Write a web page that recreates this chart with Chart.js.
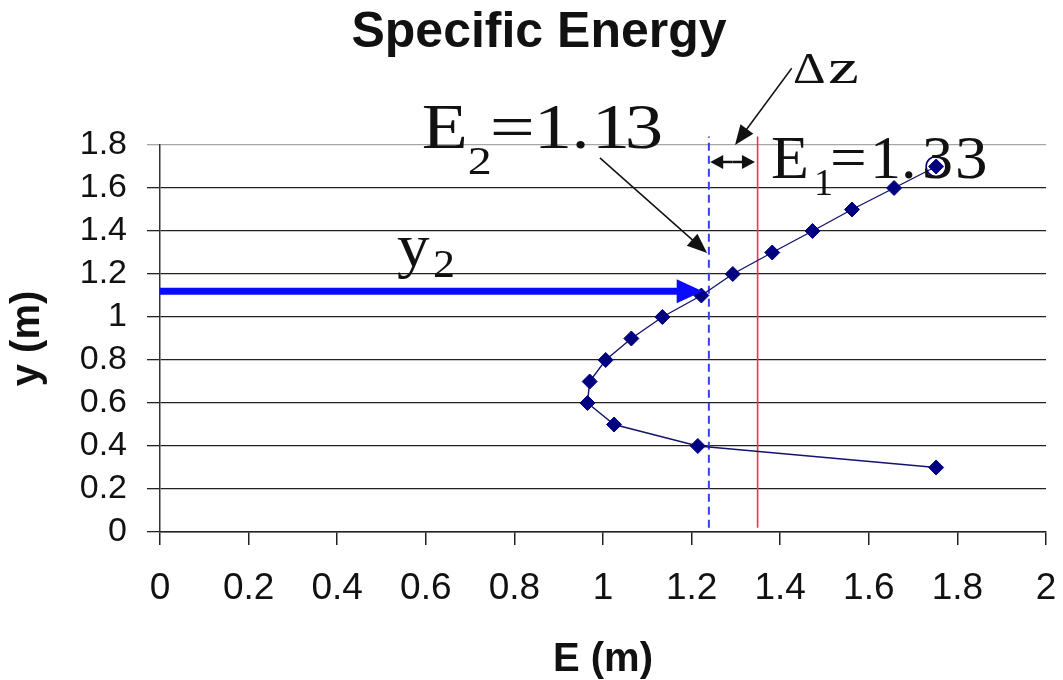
<!DOCTYPE html>
<html>
<head>
<meta charset="utf-8">
<title>Specific Energy</title>
<script src="https://cdn.jsdelivr.net/npm/chart.js@4/dist/chart.umd.min.js"></script>
<style>
  html, body { margin: 0; padding: 0; background: #ffffff; }
  canvas { display: block; }
</style>
</head>
<body>
<canvas id="chart" width="1063" height="680"></canvas>
<script>
// Flow depth y (m) and the specific energy E (m) computed at each depth
const depthY  = [0.3, 0.4, 0.5, 0.6, 0.7, 0.8, 0.9, 1.0, 1.1, 1.2, 1.3, 1.4, 1.5, 1.6, 1.7];
const energyE = [1.752, 1.214, 1.025, 0.965, 0.970, 1.006, 1.064, 1.134, 1.222, 1.293, 1.382, 1.473, 1.562, 1.657, 1.752];

// Axis tick labels
const xTickLabels = ['0', '0.2', '0.4', '0.6', '0.8', '1', '1.2', '1.4', '1.6', '1.8', '2'];
const yTickLabels = ['0', '0.2', '0.4', '0.6', '0.8', '1', '1.2', '1.4', '1.6', '1.8'];

// Energy levels drawn as vertical reference lines (downstream, upstream)
const energyLevels = [1.239, 1.349];
const levelSpanY = [0.02, 1.84];

// Depth for the downstream section
const depthY2 = 1.12;
const depthY2Energy = 1.225;

// Index of the starting point that is ringed
const ringedIndex = 14;

const NAVY = '#000080';
const SANS = '"Liberation Sans", Arial, sans-serif';
const SERIF = '"Liberation Serif", "Times New Roman", serif';

// Callouts, placed in axis units: arrows and formula text.
// Each text run: [text, dx, dy, size factor, horizontal stretch]
const callouts = {
  e2Pointer:  { from: [0.993, 1.74], to: [1.235, 1.298] },
  dzPointer:  { from: [1.426, 2.157], to: [1.298, 1.800] },
  dzSpan:     { y: 1.721, x: [1.242, 1.343] },
  e2Label:    { at: [0.591, 1.786], size: 64,
                runs: [['E', 0, 0, 1, 1.18], ['2', 46, 26, 0.62, 1.2], ['=', 68, 0, 1, 1.25],
                       ['1', 112, 0, 1, 1.2], ['.', 150, 0, 1, 1.1], ['1', 170, 0, 1, 1.2], ['3', 203, 0, 1, 1.2]] },
  e1Label:    { at: [1.379, 1.647], size: 62,
                runs: [['E', 0, 0, 1, 1], ['1', 43, 17, 0.62, 1], ['=', 59, 0, 1, 1.05],
                       ['1', 99, 0, 1, 1], ['.', 130, 0, 1, 1], ['3', 151, 0, 1, 1], ['3', 184, 0, 1, 1.05]] },
  dzLabel:    { at: [1.429, 2.088], size: 44,
                runs: [['\u0394', 0, 0, 1, 1.15], ['z', 35, 0, 1.1, 1.45]] },
  y2Label:    { at: [0.535, 1.237], size: 62,
                runs: [['y', 0, 0, 1, 1.05], ['2', 36, 11, 0.64, 1.1]] }
};

function arrowHead(ctx, x1, y1, x2, y2, len, half) {
  const a = Math.atan2(y2 - y1, x2 - x1);
  const bx = x2 - len * Math.cos(a), by = y2 - len * Math.sin(a);
  ctx.beginPath();
  ctx.moveTo(x2, y2);
  ctx.lineTo(bx + half * Math.sin(a), by - half * Math.cos(a));
  ctx.lineTo(bx - half * Math.sin(a), by + half * Math.cos(a));
  ctx.closePath();
  ctx.fill();
}

function arrow(ctx, x1, y1, x2, y2, opts) {
  const a = Math.atan2(y2 - y1, x2 - x1);
  ctx.save();
  ctx.strokeStyle = opts.color;
  ctx.fillStyle = opts.color;
  ctx.lineWidth = opts.width;
  ctx.beginPath();
  ctx.moveTo(x1, y1);
  ctx.lineTo(x2 - opts.len * 0.7 * Math.cos(a), y2 - opts.len * 0.7 * Math.sin(a));
  ctx.stroke();
  arrowHead(ctx, x1, y1, x2, y2, opts.len, opts.half);
  ctx.restore();
}

function drawRuns(ctx, x, y, label) {
  ctx.textAlign = 'left';
  ctx.textBaseline = 'alphabetic';
  label.runs.forEach(([text, dx, dy, k, sx]) => {
    ctx.save();
    ctx.fillStyle = '#111';
    ctx.font = `${Math.round(label.size * k)}px ${SERIF}`;
    ctx.translate(x + dx, y + dy);
    ctx.scale(sx, 1);
    ctx.fillText(text, 0, 0);
    ctx.restore();
  });
}

const calloutPlugin = {
  id: 'callouts',
  afterDraw(chart) {
    const { ctx, scales: { x: xs, y: ys } } = chart;
    const px = v => xs.getPixelForValue(v);
    const py = v => ys.getPixelForValue(v);

    // Chart title
    ctx.save();
    ctx.fillStyle = '#111';
    ctx.font = `bold 50px ${SANS}`;
    ctx.textAlign = 'center';
    ctx.textBaseline = 'alphabetic';
    ctx.fillText('Specific Energy', 539, 47);
    ctx.restore();

    // Thick blue arrow marking the downstream depth y2
    arrow(ctx, px(0), py(depthY2), px(depthY2Energy), py(depthY2),
          { color: '#0a0aff', width: 7, len: 26, half: 12 });

    // Pointer from the E2 label to the dashed energy line
    const p = callouts.e2Pointer;
    arrow(ctx, px(p.from[0]), py(p.from[1]), px(p.to[0]), py(p.to[1]),
          { color: '#111', width: 1.5, len: 20, half: 8 });

    // Pointer from the delta-z label to the gap between the two lines
    const q = callouts.dzPointer;
    arrow(ctx, px(q.from[0]), py(q.from[1]), px(q.to[0]), py(q.to[1]),
          { color: '#111', width: 1.5, len: 20, half: 8 });

    // Double-headed arrow spanning the energy difference
    const s = callouts.dzSpan;
    const sx0 = px(s.x[0]), sx1 = px(s.x[1]), sy = py(s.y), mid = (sx0 + sx1) / 2;
    arrow(ctx, mid, sy, sx0, sy, { color: '#111', width: 2.5, len: 13, half: 7 });
    arrow(ctx, mid, sy, sx1, sy, { color: '#111', width: 2.5, len: 13, half: 7 });

    // Formula labels
    ['e2Label', 'e1Label', 'dzLabel', 'y2Label'].forEach(key => {
      const l = callouts[key];
      drawRuns(ctx, px(l.at[0]), py(l.at[1]), l);
    });
  }
};

const curvePoints = depthY.map((y, i) => ({ x: energyE[i], y }));

new Chart(document.getElementById('chart'), {
  type: 'scatter',
  data: {
    datasets: [
      {
        label: 'E',
        data: curvePoints,
        showLine: true,
        borderColor: '#14146e',
        borderWidth: 1.4,
        pointStyle: 'rectRot',
        pointRadius: 7.5,
        pointBackgroundColor: NAVY,
        pointBorderColor: NAVY,
        pointBorderWidth: 1
      },
      {
        label: 'start',
        data: [{ x: energyE[ringedIndex], y: depthY[ringedIndex] }],
        showLine: false,
        pointStyle: 'circle',
        pointRadius: 10,
        pointBackgroundColor: 'rgba(0,0,0,0)',
        pointBorderColor: NAVY,
        pointBorderWidth: 1.6,
        clip: false
      },
      {
        label: 'E2',
        data: levelSpanY.map(y => ({ x: energyLevels[0], y })),
        showLine: true,
        borderColor: '#3c3cff',
        borderWidth: 2,
        borderDash: [8, 5],
        pointRadius: 0,
        clip: false
      },
      {
        label: 'E1',
        data: levelSpanY.map(y => ({ x: energyLevels[1], y })),
        showLine: true,
        borderColor: '#ff2d55',
        borderWidth: 1.6,
        pointRadius: 0,
        clip: false
      }
    ]
  },
  options: {
    responsive: false,
    animation: false,
    devicePixelRatio: 1,
    layout: { padding: { top: 145, left: 0, right: 17, bottom: 0 } },
    plugins: {
      legend: { display: false },
      tooltip: { enabled: false },
      title: { display: false }
    },
    scales: {
      x: {
        type: 'linear',
        min: 0,
        max: 2,
        afterFit(scale) {
          scale.height = 148;
          scale.paddingLeft = 0;
          scale.paddingRight = 10;
        },
        ticks: {
          stepSize: 0.2,
          autoSkip: false,
          maxRotation: 0,
          padding: 22,
          color: '#111',
          font: { family: SANS, size: 37 },
          callback: (v, i) => xTickLabels[i]
        },
        grid: { drawOnChartArea: false, drawTicks: true, tickLength: 13, color: '#222', lineWidth: 1.5 },
        border: { color: '#222', width: 1.5 },
        title: {
          display: true,
          text: 'E (m)',
          color: '#111',
          font: { family: SANS, size: 40, weight: 'bold', lineHeight: 1 },
          padding: { top: 3, bottom: 0 }
        }
      },
      y: {
        min: 0,
        max: 1.8,
        afterFit(scale) { scale.width = 160; },
        ticks: {
          stepSize: 0.2,
          autoSkip: false,
          padding: 20,
          color: '#111',
          font: { family: SANS, size: 34 },
          callback: (v, i) => yTickLabels[i]
        },
        grid: {
          drawTicks: true,
          tickLength: 13,
          lineWidth: 1.3,
          color: c => (c.index === yTickLabels.length - 1 ? '#a6a6a6' : '#222')
        },
        border: { color: '#333', width: 1.5 },
        title: {
          display: true,
          text: 'y (m)',
          color: '#111',
          font: { family: SANS, size: 40, weight: 'bold', lineHeight: 1 },
          padding: { top: 8, bottom: 0 }
        }
      }
    }
  },
  plugins: [calloutPlugin]
});
</script>
</body>
</html>
